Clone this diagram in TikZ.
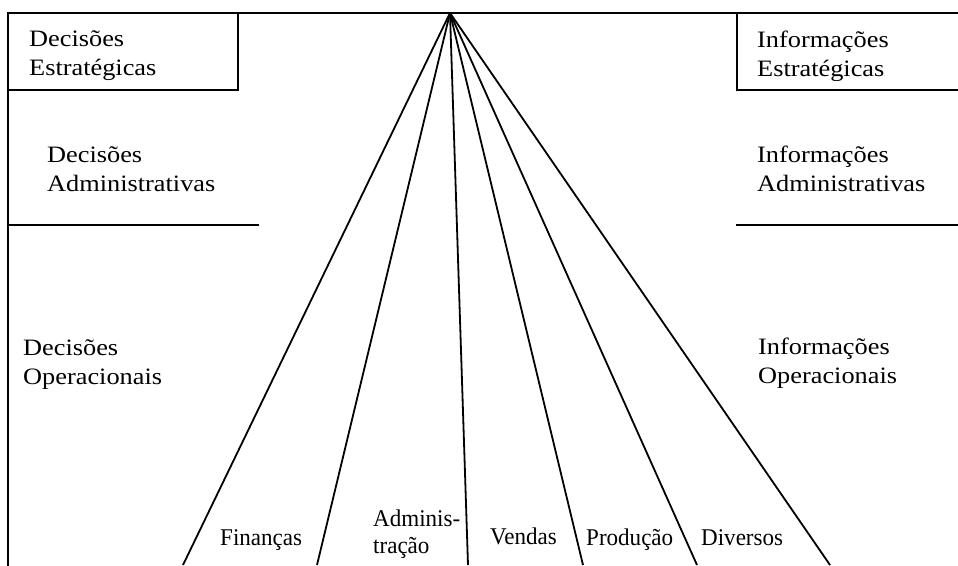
\documentclass[tikz,border=0pt]{standalone}
\usepackage{fontspec}
\setmainfont{Liberation Serif}
\newfontfamily\levelfont[FakeStretch=1.12]{Liberation Serif}
\newfontfamily\areafont[FakeStretch=0.96]{Liberation Serif}
\begin{document}
\begin{tikzpicture}[x=1pt,y=-1pt,
  frame/.style={line width=2pt, line cap=rect},
  ray/.style={line width=1.8pt},
  level/.style={anchor=base west, inner sep=0pt,
    font=\levelfont\fontsize{23.5}{29}\selectfont},
  area/.style={anchor=base west, inner sep=0pt,
    font=\areafont\fontsize{24}{27}\selectfont}]
\useasboundingbox (0,0) rectangle (958,565);
\newcommand\twolines[2]{\begin{tabular}[t]{@{}l@{}}#1\\#2\end{tabular}}

% outer frame: top rule and left border
\coordinate (tl) at (8,13);
\coordinate (tr) at (958,13);
\coordinate (bl) at (8,565);
\draw[frame] (tr) -- (tl) -- (bl);

% corner boxes for the strategic level
\coordinate (lbox) at (238,90);
\coordinate (rbox) at (737,90);
\draw[frame] (238,13) -- (lbox) -- (8,90);
\draw[frame] (737,13) -- (rbox) -- (958,90);

% separators below the administrative level
\coordinate (lsep) at (258,225);
\coordinate (rsep) at (958,225);
\draw[frame] (8,225) -- (lsep);
\draw[frame] (737,225) -- (rsep);

% rays from the apex down to the functional areas
\coordinate (apex) at (450,13);
\coordinate (r1) at (183,565);
\coordinate (r2) at (317,565);
\coordinate (r3) at (468,565);
\coordinate (r4) at (583,565);
\coordinate (r5) at (697,565);
\coordinate (r6) at (830,565);
\foreach \r in {r1,r2,r3,r4,r5,r6}
  \draw[ray] (apex) -- (\r);

% level labels (the strategic ones are cut by their boxes)
\begin{scope}
  \clip (0,0) rectangle (958,80.5);
  \node[level] (decE) at (29,46) {\twolines{Decisões}{Estratégicas}};
  \node[level] (infE) at (757,47) {\twolines{Informações}{Estratégicas}};
\end{scope}
\node[level] (decA) at (47,162.5) {\twolines{Decisões}{Administrativas}};
\node[level] (infA) at (757,162.5) {\twolines{Informações}{Administrativas}};
\node[level] (decO) at (23,355.5) {\twolines{Decisões}{Operacionais}};
\node[level] (infO) at (758,354) {\twolines{Informações}{Operacionais}};

% functional areas between the rays
\node[area] (fin) at (220,545.5) {Finanças};
\node[area] (adm) at (373,526) {\twolines{Adminis-}{tração}};
\node[area] (ven) at (490,544.5) {Vendas};
\node[area] (pro) at (586,545) {Produção};
\node[area] (div) at (701,545) {Diversos};
\end{tikzpicture}
\end{document}
